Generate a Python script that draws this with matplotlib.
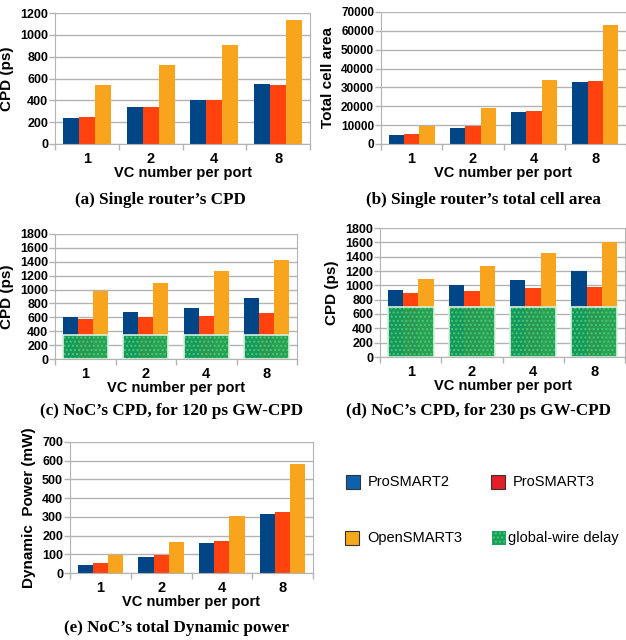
import numpy as np
import matplotlib
matplotlib.use('Agg')
import matplotlib.pyplot as plt
from matplotlib.patches import Rectangle

# 데이터
vc_labels = ['1', '2', '4', '8']
series_names = ['ProSMART2', 'ProSMART3', 'OpenSMART3']

cpd_router = [[240, 340, 400, 550], [250, 340, 400, 540], [540, 720, 910, 1140]]
area_router = [[5000, 8700, 16800, 32800], [5500, 9300, 17300, 33200], [9800, 19000, 34000, 63200]]
cpd_noc_120 = [[610, 680, 740, 880], [580, 610, 620, 665], [980, 1090, 1270, 1430]]
cpd_noc_230 = [[930, 1000, 1070, 1200], [900, 915, 960, 975], [1085, 1270, 1450, 1610]]
dyn_power = [[45, 83, 160, 315], [52, 95, 170, 325], [95, 165, 305, 582]]
gw_delay_120 = [345, 345, 345, 345]
gw_delay_230 = [700, 700, 700, 700]

bar_colors = ['#004586', '#ff420e', '#f8a51d']
legend_colors = ['#0d62b0', '#e41e26', '#f5a81c']
gw_color = '#18a058'

plt.rcParams['font.family'] = ['Liberation Sans', 'DejaVu Sans']
fig = plt.figure(figsize=(6.26, 6.40), dpi=100)
W, H = 626, 640


def make_ax(l, t, r, b):
    return fig.add_axes([l / W, 1 - b / H, (r - l) / W, (b - t) / H])


def draw_bars(ax, data, ymax, ystep, ylabel, gw=None, tick_fs=9):
    x = np.arange(len(vc_labels))
    w = 0.25
    for i, vals in enumerate(data):
        ax.bar(x + (i - 1) * w, vals, w, color=bar_colors[i], zorder=2)
    if gw is not None:
        # global-wire delay 영역 (반투명 + 점무늬)
        ax.bar(x, gw, 3 * w, color=gw_color, alpha=0.92, edgecolor='none', zorder=3)
        ax.bar(x, gw, 3 * w, facecolor='none', edgecolor='#45c978', hatch='....',
               linewidth=0, zorder=4)
        ax.bar(x, gw, 3 * w, facecolor='none', edgecolor='#d6f2de', linewidth=1.2, zorder=5)
    ax.set_xlim(-0.5, len(vc_labels) - 0.5)
    ax.set_ylim(0, ymax)
    ax.set_yticks(np.arange(0, ymax + 1, ystep))
    ax.yaxis.grid(True, color='#b3b3b3', linewidth=1, zorder=0)
    ax.set_axisbelow(True)
    ax.set_xticks(x)
    ax.set_xticklabels(vc_labels, fontsize=10.5, fontweight='bold')
    ax.tick_params(axis='x', length=0, pad=6)
    ax.set_xticks(np.arange(-0.5, len(vc_labels)), minor=True)
    ax.tick_params(axis='x', which='minor', length=4, color='#b3b3b3', width=1)
    ax.tick_params(axis='y', labelsize=tick_fs, length=4, color='#b3b3b3', width=1, pad=1)
    for lab in ax.get_yticklabels():
        lab.set_fontweight('bold')
    for s in ['left', 'bottom', 'right']:
        ax.spines[s].set_color('#b3b3b3')
    ax.spines['top'].set_visible(False)
    ax.set_ylabel(ylabel, fontsize=11, fontweight='bold', labelpad=4)
    ax.set_xlabel('VC number per port', fontsize=10.5, fontweight='bold', labelpad=0)


ax_a = make_ax(55, 13, 310, 144)
draw_bars(ax_a, cpd_router, 1200, 200, 'CPD (ps)')

ax_b = make_ax(381, 12, 626, 144)
draw_bars(ax_b, area_router, 70000, 10000, 'Total cell area', tick_fs=8.5)

ax_c = make_ax(55, 234, 297, 359)
draw_bars(ax_c, cpd_noc_120, 1800, 200, 'CPD (ps)', gw=gw_delay_120)

ax_d = make_ax(380, 228, 625, 357)
draw_bars(ax_d, cpd_noc_230, 1800, 200, 'CPD (ps)', gw=gw_delay_230)

ax_e = make_ax(70, 442, 313, 573)
draw_bars(ax_e, dyn_power, 700, 100, 'Dynamic  Power (mW)')

# 캡션
cap_font = dict(family=['Liberation Serif', 'DejaVu Serif'], fontweight='bold', fontsize=12.3,
                ha='center', va='center')
fig.text(160 / W, 1 - 200 / H, "(a) Single router\u2019s CPD", **cap_font)
fig.text(483 / W, 1 - 200 / H, "(b) Single router\u2019s total cell area", **cap_font)
fig.text(172 / W, 1 - 411 / H, "(c) NoC\u2019s CPD, for 120 ps GW-CPD", **cap_font)
fig.text(478 / W, 1 - 411 / H, "(d) NoC\u2019s CPD, for 230 ps GW-CPD", **cap_font)
fig.text(177 / W, 1 - 628 / H, "(e) NoC\u2019s total Dynamic power", **cap_font)

# 범례
legend_items = [(346, 482, legend_colors[0], series_names[0]),
                (491, 482, legend_colors[1], series_names[1]),
                (345, 538, legend_colors[2], series_names[2]),
                (492, 538, None, 'global-wire delay')]
for lx, ly, col, name in legend_items:
    if col is not None:
        fig.patches.append(Rectangle((lx / W, 1 - (ly + 7) / H), 14 / W, 14 / H,
                                     facecolor=col, edgecolor='#333333', linewidth=0.8,
                                     transform=fig.transFigure, figure=fig))
        fig.text((lx + 22) / W, 1 - ly / H, name, fontsize=10.5, va='center')
    else:
        fig.patches.append(Rectangle((lx / W, 1 - (ly + 7) / H), 14 / W, 14 / H,
                                     facecolor=gw_color, edgecolor='#45c978', hatch='....',
                                     linewidth=0, transform=fig.transFigure, figure=fig))
        fig.text((lx + 16) / W, 1 - ly / H, name, fontsize=10.5, va='center')

fig.savefig('out.png', dpi=100)
